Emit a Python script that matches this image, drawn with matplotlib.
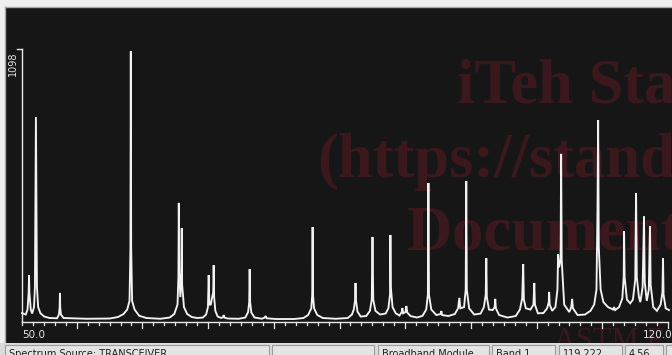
import numpy as np
import matplotlib
matplotlib.use("Agg")
import matplotlib.pyplot as plt
from matplotlib.patches import Rectangle

# ---------------- data ----------------
x_label_min = "50.0"
x_label_max = "120.0"
y_label_max = "1098"
y_max = 1098

spec_x = [50.00, 50.40, 50.60, 50.72, 50.76, 50.80, 50.95, 51.10, 51.30, 51.40, 51.46, 51.51, 51.56, 51.62,
          51.75, 52.0, 52.4, 53.0, 53.8, 54.00, 54.08, 54.11, 54.14, 54.22, 54.5, 57.0, 59.5, 60.4, 61.0,
          61.4, 61.65, 61.75, 61.79, 61.83, 61.93, 62.2, 62.7, 63.5, 65.0, 66.0, 66.5, 66.85, 66.95, 66.99,
          67.04, 67.16, 67.27, 67.31, 67.35, 67.55, 67.9, 68.4, 69.0, 69.6, 69.95, 70.15, 70.23, 70.30,
          70.45, 70.72, 70.77, 70.82, 70.95, 71.2, 71.6, 71.80, 71.85, 71.92, 72.3, 73.5, 74.2, 74.5, 74.62,
          74.67, 74.72, 74.85, 75.2, 76.0, 76.30, 76.40, 76.50, 77.5, 79.5, 80.5, 81.0, 81.35, 81.45, 81.49,
          81.53, 81.65, 82.0, 82.6, 84.0, 85.3, 85.75, 85.95, 86.10, 86.14, 86.18, 86.35, 86.7, 87.3, 87.7,
          87.90, 87.98, 88.06, 88.3, 88.8, 89.4, 89.7, 89.88, 89.92, 89.97, 90.15, 90.5, 90.9, 91.15, 91.22,
          91.3, 91.55, 91.65, 91.75, 92.1, 92.8, 93.4, 93.8, 93.98, 94.04, 94.10, 94.35, 94.9, 95.35, 95.44,
          95.52, 96.2, 96.9, 97.25, 97.39, 97.5, 97.9, 98.08, 98.14, 98.20, 98.45, 99.0, 99.7, 100.05, 100.25,
          100.31, 100.37, 100.6, 101.0, 101.22, 101.28, 101.35, 101.7, 102.6, 103.5, 103.95, 104.2, 104.31,
          104.38, 104.6, 105.1, 105.42, 105.51, 105.58, 105.9, 106.5, 106.9, 107.08, 107.12, 107.18, 107.45,
          107.8, 108.02, 108.09, 108.20, 108.36, 108.42, 108.48, 108.75, 109.3, 109.52, 109.61, 109.70,
          110.2, 111.0, 111.6, 112.0, 112.25, 112.36, 112.43, 112.50, 112.7, 113.0, 113.5, 114.05, 114.16,
          114.27, 114.7, 115.05, 115.2, 115.24, 115.30, 115.55, 115.9, 116.2, 116.45, 116.54, 116.62, 116.85,
          117.0, 117.25, 117.40, 117.48, 117.7, 117.92, 118.05, 118.12, 118.4, 118.8, 119.2, 119.4, 119.46,
          119.52, 119.75, 120.11]
spec_y = [36, 30, 50, 120, 189, 120, 50, 34, 60, 140, 495, 824, 495, 140,
          60, 35, 22, 16, 15, 30, 60, 117, 60, 30, 16, 13, 14, 20, 32,
          50, 85, 300, 1090, 300, 85, 50, 25, 16, 13, 18, 32, 70, 180, 479,
          200, 100, 200, 378, 150, 60, 32, 20, 16, 18, 30, 60, 189, 70,
          70, 120, 229, 100, 45, 22, 16, 20, 28, 18, 14, 13, 18, 40, 80,
          213, 80, 38, 18, 13, 18, 24, 15, 12, 12, 16, 28, 55, 110, 382,
          110, 55, 28, 16, 13, 16, 30, 50, 90, 157, 90, 42, 22, 24, 45,
          90, 342, 90, 45, 30, 34, 55, 110, 350, 140, 60, 35, 26, 40, 56,
          35, 40, 64, 38, 24, 18, 25, 50, 110, 559, 110, 50, 28, 32, 44,
          28, 24, 32, 55, 97, 55, 60, 130, 567, 130, 55, 30, 34, 60, 110,
          257, 100, 50, 48, 60, 93, 55, 28, 18, 24, 50, 95, 233,
          90, 55, 50, 70, 157, 70, 35, 36, 55, 80, 121, 70, 45,
          60, 130, 273, 220, 250, 676, 250, 70, 40, 60, 93, 55,
          28, 30, 45, 70, 130, 450, 812, 300, 130, 80, 60, 50, 60,
          48, 60, 95, 180, 366, 180, 90, 75, 90, 170, 519, 180, 100,
          80, 140, 426, 160, 85, 130, 386, 150, 60, 45, 70, 120, 257,
          110, 55, 48]

status_labels = ["Spectrum Source: TRANSCEIVER", "", "Broadband Module", "Band 1", "119.222", "4.56", ""]
status_box_px = [(4, 268), (271, 373), (377, 488), (491, 554), (558, 621), (624, 662), (665, 700)]

watermarks = ["iTeh Standards", "(https://standards.iteh.ai)", "Document Preview"]
watermark_px = [(457, 103), (317, 177), (407, 250)]

# ---------------- figure ----------------
W, H = 672, 355
DPI = 100
fig = plt.figure(figsize=(W / DPI, H / DPI), dpi=DPI, facecolor="#efefef")

# main panel (pixel box 5..672 x 7..343)
px_l, px_r, px_t, px_b = 5, 672, 7, 343
ax = fig.add_axes([px_l / W, (H - px_b) / H, (px_r - px_l) / W, (px_b - px_t) / H])
ax.set_facecolor("#161616")

# data mapping: 50 -> px 22, 120 -> px 668 ; 0 -> px 322, 1098 -> px 49
sx = (668 - 22) / 70.0
xmin = 50 - (22 - px_l) / sx
xmax = xmin + (px_r - px_l) / sx
sy = (322 - 49) / float(y_max)
ymin = -(px_b - 322) / sy
ymax = (322 - px_t) / sy
ax.set_xlim(xmin, xmax)
ax.set_ylim(ymin, ymax)
ax.set_xticks([])
ax.set_yticks([])
for s in ["bottom", "right"]:
    ax.spines[s].set_visible(False)
for s in ["top", "left"]:
    ax.spines[s].set_color("#a8a8a8")
    ax.spines[s].set_linewidth(1.0)

# watermarks
for txt, (wx, wy) in zip(watermarks, watermark_px):
    ax.text(wx / W, (H - wy) / H, txt, transform=fig.transFigure, fontsize=45,
            fontfamily="Liberation Serif", fontweight="bold", color="#3a181c",
            ha="left", va="baseline", zorder=0.5, clip_on=True)
ax.text(554 / W, (H - 349) / H, "ASTM E", transform=fig.transFigure, fontsize=22,
        fontfamily="Liberation Serif", color="#38191c", ha="left", va="baseline",
        zorder=0.5, clip_on=True)

# spectrum trace
ax.plot(spec_x, spec_y, color="#f2f2f2", lw=1.35, zorder=3, solid_joinstyle="miter")

# axes lines
ax.plot([50, 120], [0, 0], color="#e8e8e8", lw=1.0, zorder=4)
ax.plot([50, 50], [0, y_max], color="#e8e8e8", lw=1.0, zorder=4)
ax.plot([50 - 5 / sx, 50], [y_max, y_max], color="#e8e8e8", lw=1.0, zorder=4)
ticks = np.linspace(50, 120, 60)
for i, t in enumerate(ticks):
    ln = 6 if (i % 6 == 5) else 3
    ax.plot([t, t], [0, -ln / sy], color="#e8e8e8", lw=0.9, zorder=4)

ax.text(22 / W, (H - 335) / H, x_label_min, transform=fig.transFigure, fontsize=7.5,
        color="#e6e6e6", ha="left", va="center", fontfamily="DejaVu Sans")
ax.text(672 / W, (H - 335) / H, x_label_max, transform=fig.transFigure, fontsize=7.5,
        color="#e6e6e6", ha="right", va="center", fontfamily="DejaVu Sans", zorder=5)
ax.text(13 / W, (H - 51) / H, y_label_max, transform=fig.transFigure, fontsize=7,
        color="#e6e6e6", ha="center", va="top", rotation=90, fontfamily="DejaVu Sans")

# status bar
sb = fig.add_axes([0, 0, 1, (H - 343) / H])
sb.set_xlim(0, W)
sb.set_ylim(H, 343)
sb.axis("off")
sb.add_patch(Rectangle((0, 343), W, 12, facecolor="#dadada", edgecolor="none"))
for lab, (x0, x1) in zip(status_labels, status_box_px):
    sb.add_patch(Rectangle((x0 + 0.5, 344.5), x1 - x0, 20, facecolor="#e4e4e4",
                           edgecolor="#9c9c9c", lw=0.8))
    if lab:
        sb.text(x0 + 5, 349, lab, fontsize=7, color="#202020", ha="left", va="top",
                fontfamily="DejaVu Sans", clip_on=False)

fig.savefig("out.png", dpi=DPI, facecolor=fig.get_facecolor())
